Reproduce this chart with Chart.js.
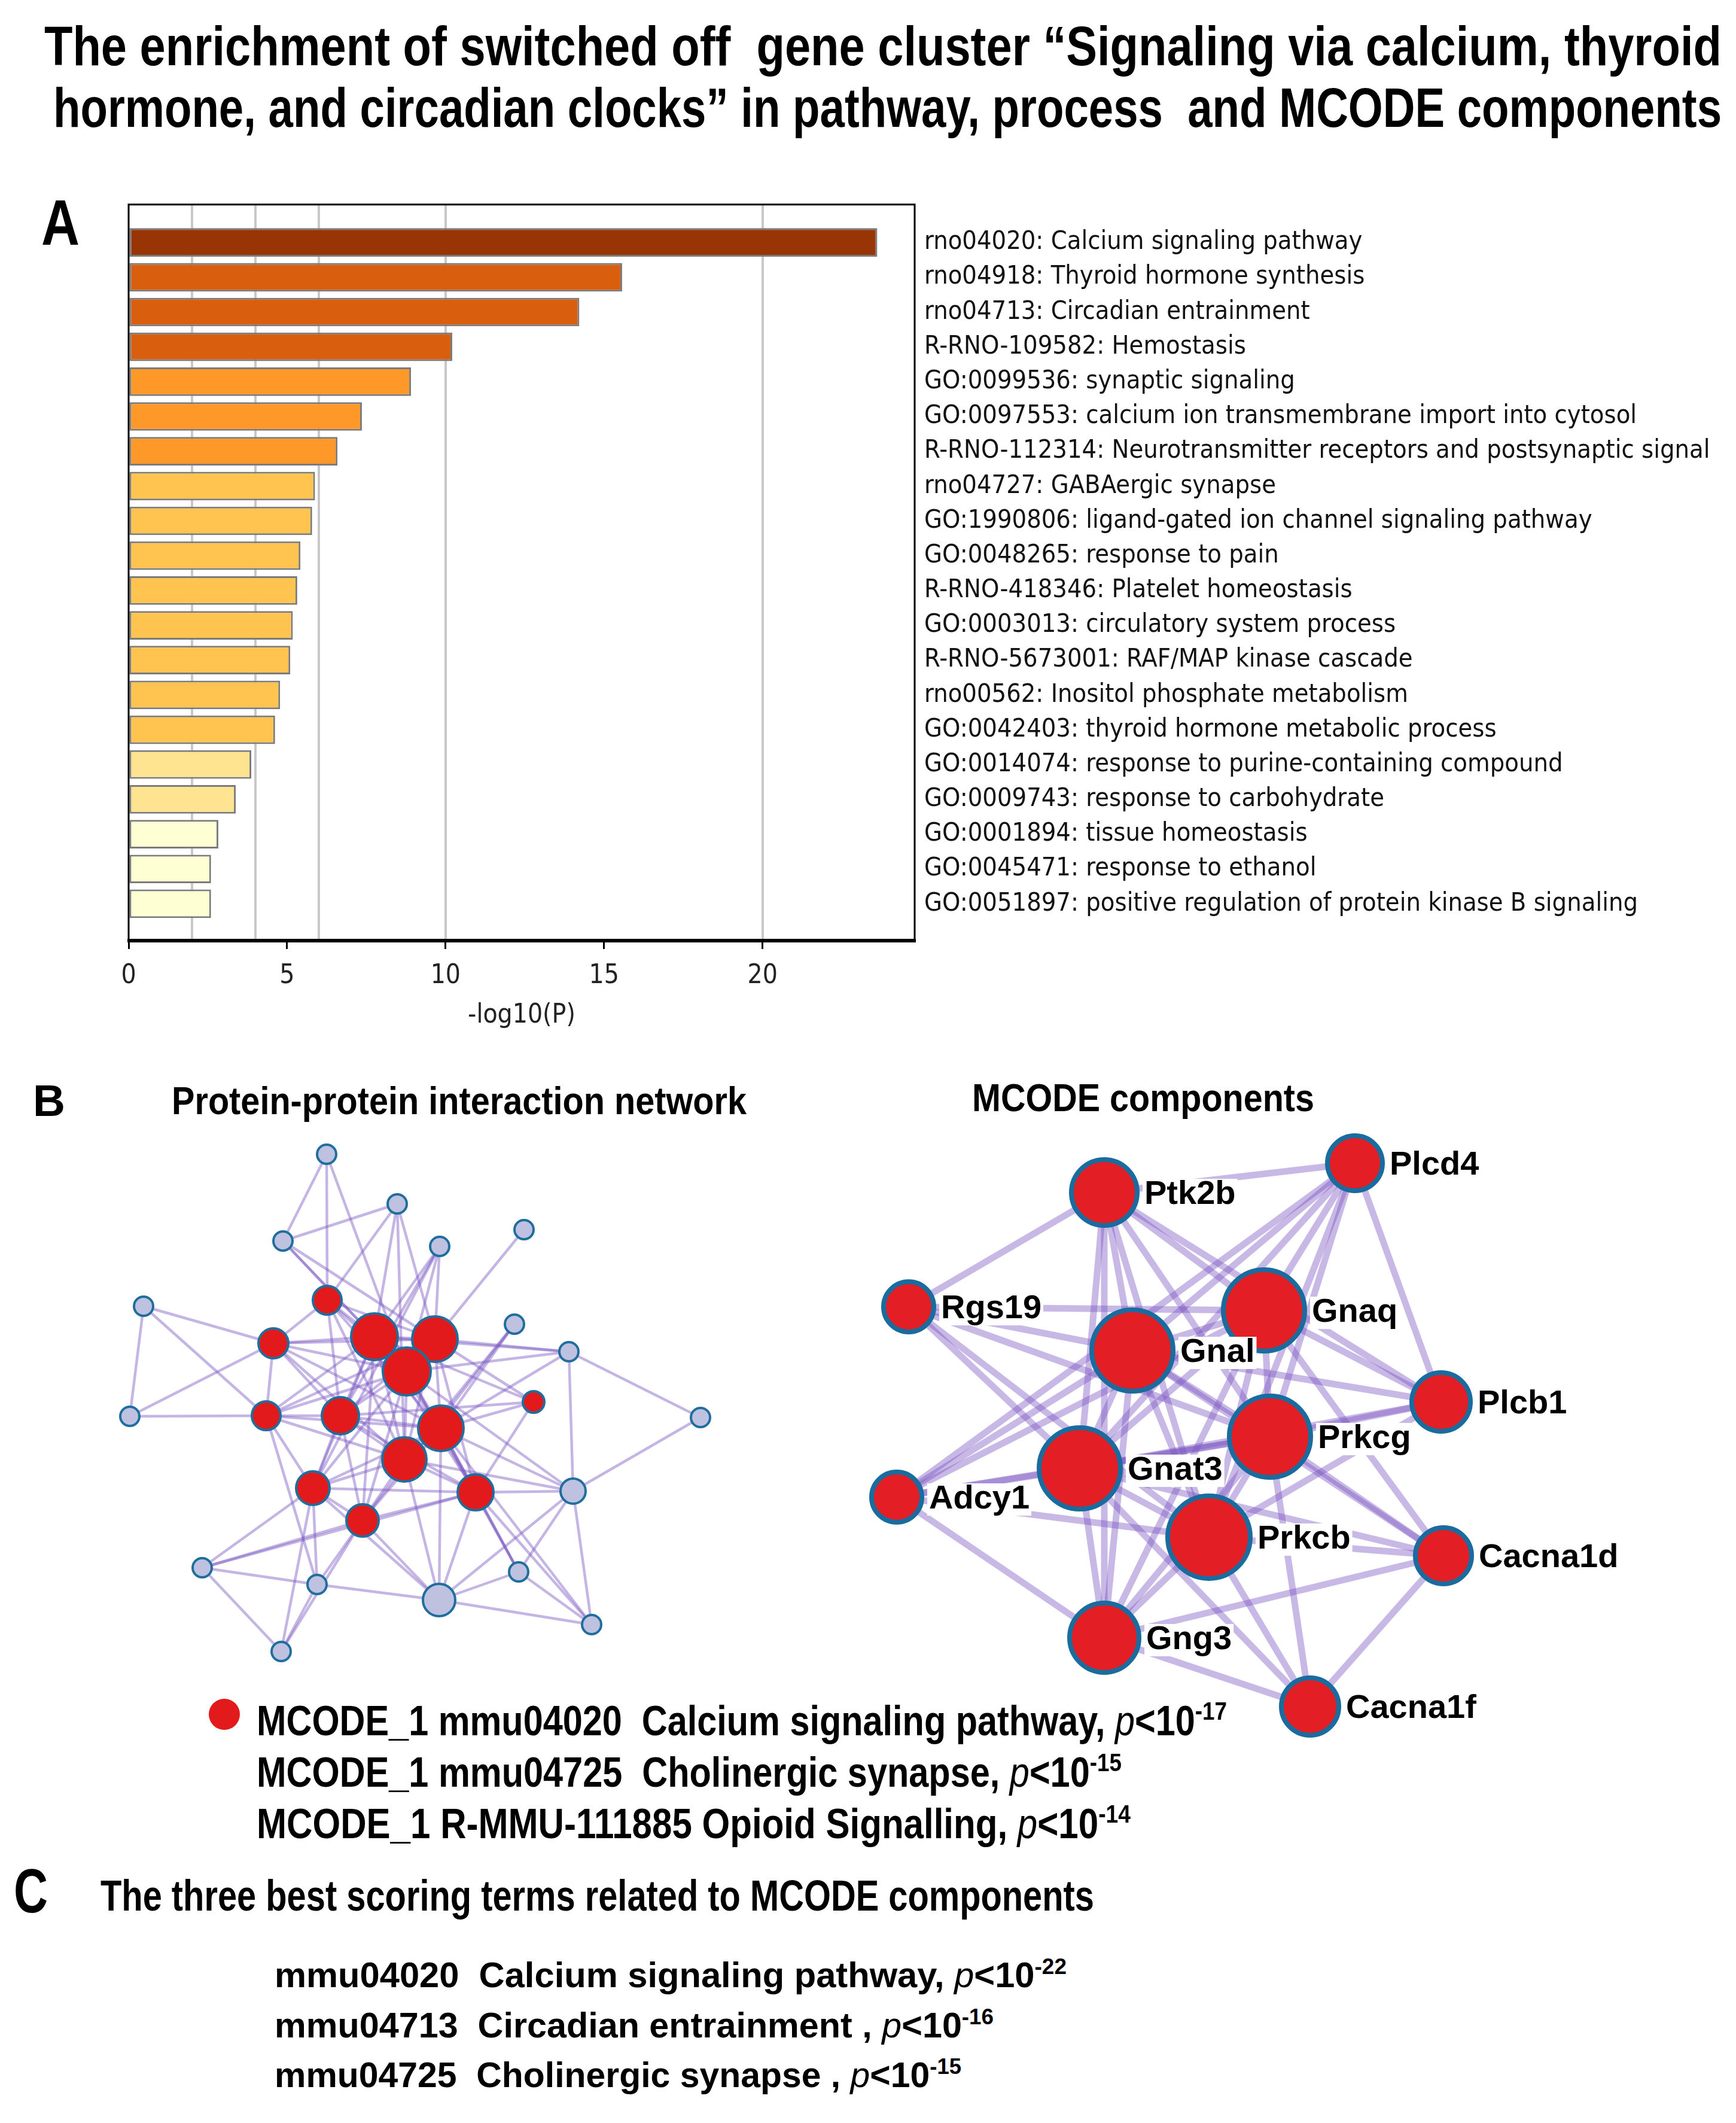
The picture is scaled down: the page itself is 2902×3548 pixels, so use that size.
<!DOCTYPE html>
<html>
<head>
<meta charset="utf-8">
<script src="https://cdn.jsdelivr.net/npm/chart.js@4.4.1/dist/chart.umd.min.js"></script>
<style>
  html, body { margin: 0; padding: 0; background: #fff; }
  body { position: relative; width: 2902px; height: 3548px; overflow: hidden; }
  .t { position: absolute; white-space: nowrap; font-family: 'Liberation Sans Narrow', 'Liberation Sans', Arial, sans-serif;
       font-weight: bold; color: #000; line-height: 1; transform-origin: 0 0; }
  .t i { font-weight: normal; }
  .t sup { font-size: 0.62em; vertical-align: 0.6em; line-height: 0; }
  canvas { position: absolute; }
  .dot { position: absolute; width: 52px; height: 52px; border-radius: 50%; background: #e31a1c; }
</style>
</head>
<body>

<div class="t" data-w="2804" style="left:74px; top:31px; font-size:93px;">The enrichment of switched off&nbsp; gene cluster “Signaling via calcium, thyroid</div>
<div class="t" data-w="2789" style="left:89px; top:134px; font-size:93px;">hormone, and circadian clocks” in pathway, process&nbsp; and MCODE components</div>

<div class="t" data-w="64" style="left:69px; top:319px; font-size:107px;">A</div>
<canvas id="barA" width="2902" height="1460" style="left:0; top:300px;"></canvas>

<div class="t" data-w="54" style="left:55px; top:1803px; font-size:74px;">B</div>
<div class="t" data-w="961" style="left:287px; top:1808px; font-size:64px;">Protein-protein interaction network</div>
<div class="t" data-w="572" style="left:1625px; top:1803px; font-size:64px;">MCODE components</div>
<canvas id="ppi" width="1100" height="920" style="left:150px; top:1880px;"></canvas>
<canvas id="mcode" width="1480" height="1070" style="left:1420px; top:1860px;"></canvas>

<div class="dot" style="left:349px; top:2839px;"></div>
<div class="t" data-w="1622" style="left:429px; top:2841px; font-size:70px;">MCODE_1 mmu04020&nbsp; Calcium signaling pathway, <i>p</i>&lt;10<sup>-17</sup></div>
<div class="t" data-w="1446" style="left:429px; top:2927px; font-size:70px;">MCODE_1 mmu04725&nbsp; Cholinergic synapse, <i>p</i>&lt;10<sup>-15</sup></div>
<div class="t" data-w="1461" style="left:429px; top:3013px; font-size:70px;">MCODE_1 R-MMU-111885 Opioid Signalling, <i>p</i>&lt;10<sup>-14</sup></div>

<div class="t" data-w="57" style="left:23px; top:3109px; font-size:103px;">C</div>
<div class="t" data-w="1661" style="left:168px; top:3132px; font-size:72px;">The three best scoring terms related to MCODE components</div>
<div class="t" data-w="1324" style="left:459px; top:3271px; font-size:60px;">mmu04020&nbsp; Calcium signaling pathway, <i>p</i>&lt;10<sup>-22</sup></div>
<div class="t" data-w="1202" style="left:459px; top:3355px; font-size:60px;">mmu04713&nbsp; Circadian entrainment , <i>p</i>&lt;10<sup>-16</sup></div>
<div class="t" data-w="1148" style="left:459px; top:3438px; font-size:60px;">mmu04725&nbsp; Cholinergic synapse , <i>p</i>&lt;10<sup>-15</sup></div>

<script>
// Panel A: enrichment terms and their -log10(P)
const terms = [
  'rno04020: Calcium signaling pathway',
  'rno04918: Thyroid hormone synthesis',
  'rno04713: Circadian entrainment',
  'R-RNO-109582: Hemostasis',
  'GO:0099536: synaptic signaling',
  'GO:0097553: calcium ion transmembrane import into cytosol',
  'R-RNO-112314: Neurotransmitter receptors and postsynaptic signal',
  'rno04727: GABAergic synapse',
  'GO:1990806: ligand-gated ion channel signaling pathway',
  'GO:0048265: response to pain',
  'R-RNO-418346: Platelet homeostasis',
  'GO:0003013: circulatory system process',
  'R-RNO-5673001: RAF/MAP kinase cascade',
  'rno00562: Inositol phosphate metabolism',
  'GO:0042403: thyroid hormone metabolic process',
  'GO:0014074: response to purine-containing compound',
  'GO:0009743: response to carbohydrate',
  'GO:0001894: tissue homeostasis',
  'GO:0045471: response to ethanol',
  'GO:0051897: positive regulation of protein kinase B signaling'
];
const logP = [23.62, 15.57, 14.22, 10.21, 8.91, 7.36, 6.59, 5.88, 5.79, 5.42,
              5.32, 5.18, 5.10, 4.78, 4.62, 3.87, 3.38, 2.83, 2.60, 2.60];
const xTicks = [0, 5, 10, 15, 20];
const xGrid = [2, 4, 6, 10, 20];
const xMax = 24.8;

// Panel B left: protein-protein interaction network (layout units)
const ppiX = [39.6, 51.4, 32.3, 58.5, 72.6, 9.0, 71.0, 80.1, 6.7, 102.1, 80.8, 18.8, 38.0, 58.4, 71.7, 83.9, 32.0,
              39.7, 47.6, 57.7, 53.0, 30.7, 29.5, 41.9, 58.7, 74.2, 52.6, 37.3, 64.5, 45.6];
const ppiY = [4.9, 13.2, 19.4, 20.3, 17.5, 30.3, 33.3, 37.9, 48.7, 48.9, 61.2, 74.0, 76.8, 79.4, 74.7, 83.5, 88.0,
              29.3, 35.4, 35.8, 41.2, 36.5, 48.6, 48.6, 50.7, 46.3, 55.9, 60.7, 61.4, 66.1];
const ppiInMcode = [0,0,0,0,0,0,0,0,0,0,0,0,0,0,0,0,0, 1,1,1,1,1,1,1,1,1,1,1,1,1];
const ppiEdges = [
  [0,2],[0,17],[0,20],[1,2],[1,17],[1,18],[1,19],[1,26],[2,18],[2,20],[2,19],
  [3,18],[3,19],[3,20],[3,23],[3,27],[4,19],[5,21],[5,22],[5,8],[8,22],[8,21],
  [6,24],[6,26],[6,29],[7,19],[7,18],[7,20],[7,9],[7,10],[7,24],[9,10],
  [10,24],[10,26],[10,28],[10,20],[10,14],[10,15],[10,13],
  [11,27],[11,29],[11,12],[11,16],[11,28],[12,29],[12,27],[12,13],[12,16],[12,22],
  [13,26],[13,28],[13,29],[13,24],[13,14],[13,15],[13,27],[14,28],[14,24],[14,20],[14,15],
  [15,28],[15,24],[16,27],[16,29],[25,18],[25,19],[25,24],[25,23],[25,28],
  [17,18],[17,19],[17,20],[17,21],[17,23],[17,24],[17,26],
  [18,19],[18,20],[18,21],[18,22],[18,23],[18,24],[18,26],[18,27],[18,28],[18,29],
  [19,20],[19,21],[19,22],[19,23],[19,24],[19,26],[19,28],
  [20,21],[20,22],[20,23],[20,24],[20,26],[20,27],[20,28],[20,29],
  [21,22],[21,23],[21,24],[21,26],[22,23],[22,24],[22,26],[22,27],
  [23,24],[23,26],[23,27],[23,28],[23,29],[24,26],[24,27],[24,28],[24,29],
  [26,27],[26,28],[26,29],[27,28],[27,29],[28,29]
];

// Panel B right: MCODE component genes (layout units)
const mcodeGenes = ['Ptk2b', 'Plcd4', 'Rgs19', 'Gnaq', 'Gnal', 'Plcb1', 'Prkcg', 'Gnat3', 'Adcy1', 'Prkcb', 'Cacna1d', 'Gng3', 'Cacna1f'];
const mcodeX = [42.6, 84.5, 9.9, 69.3, 47.3, 98.9, 70.3, 38.5, 7.9, 60.1, 99.3, 42.6, 77.0];
const mcodeY = [13.3, 8.4, 32.4, 33.0, 39.7, 48.3, 54.1, 59.4, 64.2, 70.9, 74.0, 87.7, 99.2];
const mcodeEdges = [
  [0,1],[0,2],[0,3],[0,4],[0,5],[0,6],[0,7],[0,9],[0,11],
  [1,3],[1,4],[1,5],[1,6],[1,7],[1,8],[1,9],
  [2,3],[2,4],[2,6],[2,7],[2,9],
  [3,4],[3,5],[3,6],[3,7],[3,9],[3,10],[3,11],[3,8],
  [4,5],[4,6],[4,7],[4,8],[4,9],[4,11],[4,10],
  [5,6],[5,9],[5,7],
  [6,7],[6,9],[6,10],[6,11],[6,12],[6,8],
  [7,8],[7,9],[7,11],[7,10],[7,12],
  [8,11],[8,9],[9,10],[9,11],[9,12],[10,11],[10,12],[11,12]
];

// ---- styles ----
const barColors = ['#993404', '#d95f0e', '#d95f0e', '#d95f0e', '#fe9929', '#fe9929', '#fe9929',
  '#fec44f', '#fec44f', '#fec44f', '#fec44f', '#fec44f', '#fec44f', '#fec44f', '#fec44f',
  '#fee391', '#fee391', '#ffffd4', '#ffffd4', '#ffffd4'];
const ppiRadius = [16,16,16,16,16,16,16,16,16,16,21,16,16,27,16,16,16,
                   24,39,38,40,25,24,31,38,18,37,28,30,27];
const mcodeRadius = [55, 46, 42, 68, 68, 49, 68, 68, 42, 69, 47, 58, 48];
const condensed = "'DejaVu Sans Condensed', 'DejaVu Sans', sans-serif";

Chart.defaults.font.family = condensed;

function fitText() {
  document.querySelectorAll('.t[data-w]').forEach(el => {
    const w = el.getBoundingClientRect().width;
    el.style.transform = 'scaleX(' + (parseFloat(el.dataset.w) / w) + ')';
  });
}

// black box round the plot area, heavy bottom axis
const frame = {
  id: 'frame',
  afterDatasetsDraw(chart) {
    const { ctx, chartArea: a } = chart;
    ctx.save();
    ctx.strokeStyle = '#000';
    ctx.lineWidth = 3;
    ctx.strokeRect(a.left, a.top, a.right - a.left, a.bottom - a.top);
    ctx.lineWidth = 6;
    ctx.beginPath();
    ctx.moveTo(a.left - 2, a.bottom);
    ctx.lineTo(a.right + 2, a.bottom);
    ctx.stroke();
    ctx.restore();
  }
};

function drawBars() {
  new Chart(document.getElementById('barA'), {
    type: 'bar',
    data: {
      datasets: [{
        data: logP.map((v, i) => ({ x: v, y: i })),
        xAxisID: 'x',
        yAxisID: 'y',
        backgroundColor: barColors,
        borderColor: '#7b7b7b',
        borderWidth: 3,
        borderSkipped: false,
        barPercentage: 0.82,
        categoryPercentage: 1
      }]
    },
    options: {
      indexAxis: 'y',
      responsive: false,
      animation: false,
      devicePixelRatio: 1,
      events: [],
      layout: { padding: { left: 215, top: 40, right: 0, bottom: 0 }, autoPadding: false },
      plugins: { legend: { display: false }, tooltip: { enabled: false } },
      scales: {
        x: {
          type: 'linear', position: 'bottom', min: 0, max: xMax,
          afterBuildTicks: s => { s.ticks = xTicks.map(v => ({ value: v })); },
          afterFit: s => { s.height = 188; },
          ticks: { color: '#222', font: { size: 44 }, padding: 19, maxRotation: 0 },
          grid: { drawOnChartArea: false, drawTicks: true, tickLength: 14, color: '#000', lineWidth: 3 },
          border: { display: false },
          title: { display: true, text: '-log10(P)', color: '#222', font: { size: 44 }, padding: { top: 0, bottom: 36 } }
        },
        x2: {
          type: 'linear', position: 'top', min: 0, max: xMax,
          afterBuildTicks: s => { s.ticks = xGrid.map(v => ({ value: v })); },
          afterFit: s => { s.height = 0; },
          ticks: { display: false },
          grid: { color: '#c8c8c8', lineWidth: 4, drawTicks: false },
          border: { display: false }
        },
        y: {
          type: 'linear', position: 'right', reverse: true, min: -0.56, max: 19.53,
          afterBuildTicks: s => { s.ticks = terms.map((t, i) => ({ value: i })); },
          afterFit: s => { s.width = 1373; },
          ticks: { callback: v => terms[v], color: '#111', font: { size: 43 }, padding: 16 },
          grid: { display: false, drawTicks: false },
          border: { display: false }
        }
      }
    },
    plugins: [frame]
  });
}

function hiddenScale(max, reverse) {
  return { type: 'linear', display: false, min: 0, max: max, reverse: reverse };
}

function drawPpi() {
  const nodes = {
    data: ppiX.map((x, i) => ({ x: x, y: ppiY[i] })),
    pointRadius: ppiRadius,
    pointBackgroundColor: ppiInMcode.map(v => v ? '#e31a1c' : '#bfc1e0'),
    pointBorderColor: '#1f6e9e',
    pointBorderWidth: 4,
    order: 0
  };
  const edges = ppiEdges.map(([a, b]) => ({
    data: [{ x: ppiX[a], y: ppiY[a] }, { x: ppiX[b], y: ppiY[b] }],
    showLine: true,
    borderColor: 'rgba(125, 90, 195, 0.45)',
    borderWidth: 4.5,
    pointRadius: 0,
    order: 1
  }));
  new Chart(document.getElementById('ppi'), {
    type: 'scatter',
    data: { datasets: [nodes, ...edges] },
    options: {
      responsive: false, animation: false, devicePixelRatio: 1, events: [],
      layout: { padding: 0, autoPadding: false },
      plugins: { legend: { display: false }, tooltip: { enabled: false } },
      scales: { x: hiddenScale(110, false), y: hiddenScale(92, true) }
    }
  });
}

const geneLabels = {
  id: 'geneLabels',
  afterDatasetsDraw(chart) {
    const { ctx, scales: { x, y } } = chart;
    ctx.save();
    ctx.font = "bold 56px 'Liberation Sans', Arial, sans-serif";
    ctx.textBaseline = 'middle';
    mcodeGenes.forEach((g, i) => {
      const px = x.getPixelForValue(mcodeX[i]) + mcodeRadius[i] + 12;
      const py = y.getPixelForValue(mcodeY[i]) + 4;
      const w = ctx.measureText(g).width;
      ctx.fillStyle = '#fff';
      ctx.fillRect(px - 3, py - 27, w + 6, 54);
      ctx.fillStyle = '#000';
      ctx.fillText(g, px, py);
    });
    ctx.restore();
  }
};

function drawMcode() {
  const nodes = {
    data: mcodeX.map((x, i) => ({ x: x, y: mcodeY[i] })),
    pointRadius: mcodeRadius,
    pointBackgroundColor: '#e31e24',
    pointBorderColor: '#1a6c9e',
    pointBorderWidth: 8,
    order: 0
  };
  const edges = mcodeEdges.map(([a, b]) => ({
    data: [{ x: mcodeX[a], y: mcodeY[a] }, { x: mcodeX[b], y: mcodeY[b] }],
    showLine: true,
    borderColor: 'rgba(125, 85, 195, 0.42)',
    borderWidth: 11,
    pointRadius: 0,
    order: 1
  }));
  new Chart(document.getElementById('mcode'), {
    type: 'scatter',
    data: { datasets: [nodes, ...edges] },
    options: {
      responsive: false, animation: false, devicePixelRatio: 1, events: [],
      layout: { padding: 0, autoPadding: false },
      plugins: { legend: { display: false }, tooltip: { enabled: false } },
      scales: { x: hiddenScale(148, false), y: hiddenScale(107, true) }
    },
    plugins: [geneLabels]
  });
}

fitText();
drawBars();
drawPpi();
drawMcode();
</script>
</body>
</html>
